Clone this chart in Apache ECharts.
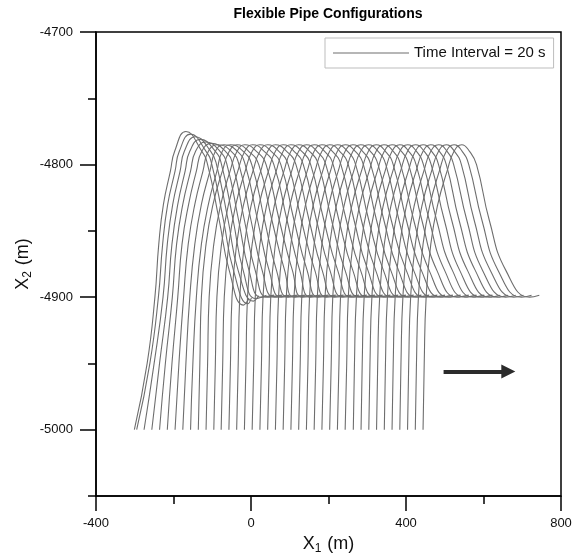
<!DOCTYPE html>
<html>
<head>
<meta charset="utf-8">
<script src="https://cdn.jsdelivr.net/npm/echarts@6/dist/echarts.min.js"></script>
<style>
html, body { margin: 0; padding: 0; background: #fff; }
#chart { width: 579px; height: 558px; }
</style>
</head>
<body>
<div id="chart"></div>
<script>
// one entry per snapshot (every 20 s), x in metres at fixed depths
const bedX     = [-301, -295, -276, -256, -236, -216, -196, -176, -156, -136, -116, -96, -77, -57, -37, -17, 3, 23, 43, 63, 83, 103, 123, 143, 163, 183, 203, 223, 243, 264, 284, 304, 324, 344, 364, 384, 404, 424, 444];
const rise4950 = [-268, -261, -250, -236, -221, -204, -186, -168, -150, -132, -112, -92, -73, -53, -33, -13, 7, 27, 47, 67, 87, 107, 127, 147, 167, 187, 207, 227, 247, 267, 287, 307, 327, 347, 367, 387, 407, 427, 447];
const rise4900 = [-248, -239, -227, -215, -203, -189, -174, -158, -141, -128, -108, -88, -69, -49, -29, -9, 11, 31, 51, 71, 91, 111, 131, 151, 171, 191, 211, 231, 251, 272, 292, 312, 332, 352, 372, 392, 412, 432, 452];
const rise4860 = [-238, -228, -216, -204, -192, -178, -162, -145, -128, -116, -96, -76, -57, -37, -17, 3, 23, 43, 63, 83, 103, 123, 143, 163, 183, 203, 223, 243, 263, 284, 304, 324, 344, 364, 384, 404, 424, 444, 464];
const rise4830 = [-226, -215, -202, -189, -176, -161, -145, -128, -110, -98, -78, -58, -39, -19, 1, 21, 41, 61, 81, 101, 121, 141, 161, 181, 201, 221, 241, 261, 281, 302, 322, 342, 362, 382, 402, 422, 442, 462, 482];
const rise4805 = [-208, -196, -183, -170, -156, -141, -124, -106, -88, -74, -54, -34, -15, 5, 25, 45, 65, 85, 105, 125, 145, 165, 185, 205, 225, 245, 265, 285, 305, 326, 346, 366, 386, 406, 426, 446, 466, 486, 506];
const rise4790 = [-197, -185, -172, -158, -143, -127, -110, -92, -74, -56, -36, -16, 3, 23, 43, 63, 83, 103, 123, 143, 163, 183, 203, 223, 243, 263, 283, 303, 323, 344, 364, 384, 404, 424, 444, 464, 484, 504, 524];
const peakX    = [-168, -156, -144, -131, -117, -102, -86, -70, -53, -36, -16, 4, 23, 43, 63, 83, 103, 123, 143, 163, 183, 203, 223, 243, 263, 283, 303, 323, 343, 364, 384, 404, 424, 444, 464, 484, 504, 524, 544];
const peakY    = [-4775, -4777, -4779, -4781, -4783, -4784, -4785, -4785, -4785, -4785, -4785, -4785, -4785, -4785, -4785, -4785, -4785, -4785, -4785, -4785, -4785, -4785, -4785, -4785, -4785, -4785, -4785, -4785, -4785, -4785, -4785, -4785, -4785, -4785, -4785, -4785, -4785, -4785, -4785];
const fall4790 = [-127, -116, -104, -92, -80, -66, -51, -35, -20, -6, 14, 34, 52, 72, 92, 111, 131, 151, 170, 190, 210, 229, 249, 269, 288, 308, 328, 347, 367, 388, 407, 427, 447, 466, 486, 506, 525, 545, 564];
const fall4800 = [-112, -101, -89, -76, -62, -47, -31, -15, 2, 20, 39, 59, 77, 96, 116, 135, 154, 174, 193, 212, 232, 251, 270, 290, 309, 328, 348, 367, 386, 407, 426, 445, 465, 484, 504, 523, 543, 562, 582];
const fall4842 = [-82, -71, -59, -46, -32, -17, 0, 17, 35, 54, 73, 93, 111, 130, 150, 169, 188, 208, 227, 246, 266, 285, 304, 324, 343, 362, 382, 401, 420, 441, 460, 479, 499, 518, 537, 557, 576, 596, 615];
const fall4880 = [-56, -45, -33, -20, -5, 11, 29, 47, 66, 87, 107, 126, 145, 165, 184, 204, 224, 243, 263, 283, 302, 322, 342, 361, 381, 401, 420, 440, 460, 480, 500, 520, 539, 559, 579, 598, 618, 638, 658];
const bottomX  = [-20, -8, 6, 12, 26, 42, 60, 78, 96, 112, 133, 154, 174, 195, 216, 237, 258, 279, 299, 320, 341, 362, 383, 404, 425, 446, 467, 488, 509, 531, 552, 573, 594, 615, 636, 657, 678, 698, 719];
const bottomY  = [-4906, -4905, -4903, -4901, -4900, -4900, -4900, -4900, -4900, -4900, -4900, -4900, -4900, -4900, -4900, -4900, -4900, -4900, -4900, -4900, -4900, -4900, -4900, -4900, -4900, -4900, -4900, -4900, -4900, -4900, -4900, -4900, -4900, -4900, -4900, -4900, -4900, -4900, -4900];
const endX     = [-5, 1, 20, 40, 60, 80, 100, 120, 140, 160, 180, 200, 219, 239, 259, 279, 299, 320, 340, 360, 380, 400, 420, 440, 460, 481, 501, 521, 541, 562, 582, 602, 623, 643, 663, 683, 703, 724, 744];
const endY     = [-4901, -4900.5, -4899, -4898.5, -4898.5, -4898.5, -4898.5, -4898.5, -4898.5, -4898.5, -4898.5, -4898.5, -4898.5, -4898.5, -4898.5, -4898.5, -4898.5, -4898.5, -4898.5, -4898.5, -4898.5, -4898.5, -4898.5, -4898.5, -4898.5, -4898.5, -4898.5, -4898.5, -4898.5, -4898.5, -4898.5, -4898.5, -4898.5, -4898.5, -4898.5, -4898.5, -4898.5, -4898.5, -4898.5];

const yTicks = ['-5050', '-5000', '-4950', '-4900', '-4850', '-4800', '-4750', '-4700'];
const arrowX = [497, 664];
const arrowY = -4956;

const chart = echarts.init(document.getElementById('chart'));
const font = 'Liberation Sans, Arial, sans-serif';
const pipeName = 'Time Interval = 20 s';
const axisColor = '#000';
const pipeColor = '#6e6e6e';
const nameRich = {
    a: { fontSize: 18, fontFamily: font, color: '#111', verticalAlign: 'top' },
    s: { fontSize: 12, fontFamily: font, color: '#111', verticalAlign: 'top', padding: [8, 1, 0, 0] }
};
const majorY = (idx, val) => Number(val) % 100 === 0;

const series = bedX.map((x0, i) => ({
    type: 'line',
    name: pipeName,
    xAxisIndex: 0,
    yAxisIndex: 0,
    symbol: 'none',
    showSymbol: false,
    smooth: 0.5,
    silent: true,
    itemStyle: { color: pipeColor },
    lineStyle: { color: pipeColor, width: 1.1 },
    data: [
        [x0, -5000], [rise4950[i], -4950], [rise4900[i], -4900], [rise4860[i], -4860],
        [rise4830[i], -4830], [rise4805[i], -4805], [rise4790[i], -4790], [peakX[i], peakY[i]],
        [fall4790[i], -4790], [fall4800[i], -4800], [fall4842[i], -4842], [fall4880[i], -4880],
        [bottomX[i], bottomY[i]], [endX[i], endY[i]]
    ]
}));

// direction arrow
series.push({
    type: 'line',
    name: 'arrow',
    xAxisIndex: 0,
    yAxisIndex: 0,
    data: [],
    silent: true,
    markLine: {
        silent: true,
        symbol: ['none', 'triangle'],
        symbolSize: 14,
        label: { show: false },
        itemStyle: { color: '#2b2b2b' },
        lineStyle: { color: '#2b2b2b', width: 4, type: 'solid' },
        data: [[{ coord: [arrowX[0], arrowY] }, { coord: [arrowX[1], arrowY] }]]
    }
});

const option = {
    animation: false,
    backgroundColor: '#fff',
    title: {
        text: 'Flexible Pipe Configurations',
        left: 323,
        top: 2,
        textAlign: 'center',
        textStyle: { fontSize: 14, fontWeight: 'bold', fontFamily: font, color: '#000' }
    },
    legend: {
        data: [{ name: pipeName, icon: 'rect' }],
        left: 325,
        top: 38,
        itemWidth: 76,
        itemHeight: 1,
        padding: [7, 8, 7, 8],
        borderColor: '#bdbdbd',
        borderWidth: 1,
        selectedMode: false,
        textStyle: { fontSize: 15, fontFamily: font, color: '#111', lineHeight: 16 }
    },
    grid: {
        left: 96, right: 18, top: 32, bottom: 62,
        show: true, borderColor: axisColor, borderWidth: 1.5,
        outerBoundsMode: 'none'
    },
    xAxis: [{
        type: 'value',
        min: -400, max: 800, interval: 400,
        axisLine: { show: true, onZero: false, lineStyle: { color: axisColor, width: 1.5 } },
        axisTick: { show: true, length: 15, lineStyle: { color: axisColor, width: 1.5 } },
        minorTick: { show: true, splitNumber: 2, length: 8, lineStyle: { color: axisColor, width: 1.5 } },
        splitLine: { show: false },
        axisLabel: { color: '#111', fontSize: 13, fontFamily: font, margin: 21 },
        name: '{a|X}{s|1}{a| (m)}',
        nameLocation: 'middle',
        nameGap: 36,
        nameTextStyle: { rich: nameRich }
    }],
    yAxis: [{
        type: 'value',
        position: 'left',
        min: -5050, max: -4700, interval: 50,
        axisLine: { show: true, onZero: false, lineStyle: { color: axisColor, width: 1.5 } },
        axisTick: { show: true, length: 8, lineStyle: { color: axisColor, width: 1.5 } },
        axisLabel: { show: false },
        splitLine: { show: false },
        name: '{a|X}{s|2}{a| (m)}',
        nameLocation: 'middle',
        nameGap: 62,
        nameRotate: 90,
        nameTextStyle: { rich: nameRich }
    }, {
        type: 'category',
        position: 'left',
        data: yTicks,
        boundaryGap: false,
        axisLine: { show: false, onZero: false },
        axisTick: { show: true, length: 16, interval: majorY, lineStyle: { color: axisColor, width: 1.5 } },
        axisLabel: { interval: majorY, color: '#111', fontSize: 13, fontFamily: font, margin: 23 },
        splitLine: { show: false }
    }],
    series: series
};

chart.setOption(option);
</script>
</body>
</html>
